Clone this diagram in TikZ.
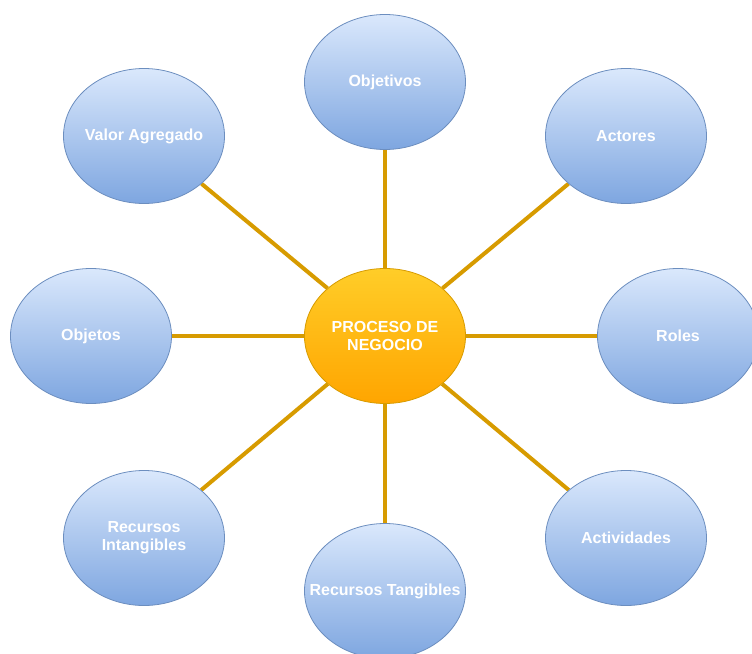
\documentclass[tikz,border=0pt]{standalone}
\usepackage{fontspec}
\setmainfont{Liberation Sans}
\usepackage{xcolor}
\usepackage{tikz}
\usetikzlibrary{shapes.geometric}
\pgfdeclarelayer{background}
\pgfsetlayers{background,main}
\definecolor{topicTop}{HTML}{DAE8FC}
\definecolor{topicBottom}{HTML}{7EA6E0}
\definecolor{topicLine}{HTML}{6C8EBF}
\definecolor{hubTop}{HTML}{FFCD28}
\definecolor{hubBottom}{HTML}{FFA500}
\definecolor{hubLine}{HTML}{D79B00}
\tikzstyle{topic} = [ellipse, minimum width=161pt, minimum height=135pt, inner xsep=-50pt, inner ysep=0pt, align=center, draw=topicLine, line width=0.8pt, top color=topicTop, bottom color=topicBottom, text=white, font=\fontsize{16}{18}\selectfont\bfseries]
\tikzstyle{hub}   = [topic, draw=hubLine, top color=hubTop, bottom color=hubBottom]
\tikzstyle{link}  = [draw=hubLine, line width=4pt]

\begin{document}
\begin{tikzpicture}[x=1pt, y=-1pt]
    \useasboundingbox (0,0) rectangle (752,653);

    \node (proceso)     [hub]   at (385,336) {PROCESO DE\\NEGOCIO};
    \node (objetivos)   [topic] at (385,82)  {Objetivos};
    \node (actores)     [topic] at (626,136) {Actores};
    \node (roles)       [topic] at (678,336) {Roles};
    \node (actividades) [topic] at (626,538) {Actividades};
    \node (tangibles)   [topic] at (385,591) {Recursos Tangibles};
    \node (intangibles) [topic] at (144,538) {Recursos\\Intangibles};
    \node (objetos)     [topic] at (91,336)  {Objetos};
    \node (valor)       [topic] at (144,136) {Valor Agregado};

    \begin{pgfonlayer}{background}
      \foreach \n in {objetivos, actores, roles, actividades, tangibles, intangibles, objetos, valor}
        \draw [link] (proceso) -- (\n);
    \end{pgfonlayer}

  \end{tikzpicture}
\end{document}
